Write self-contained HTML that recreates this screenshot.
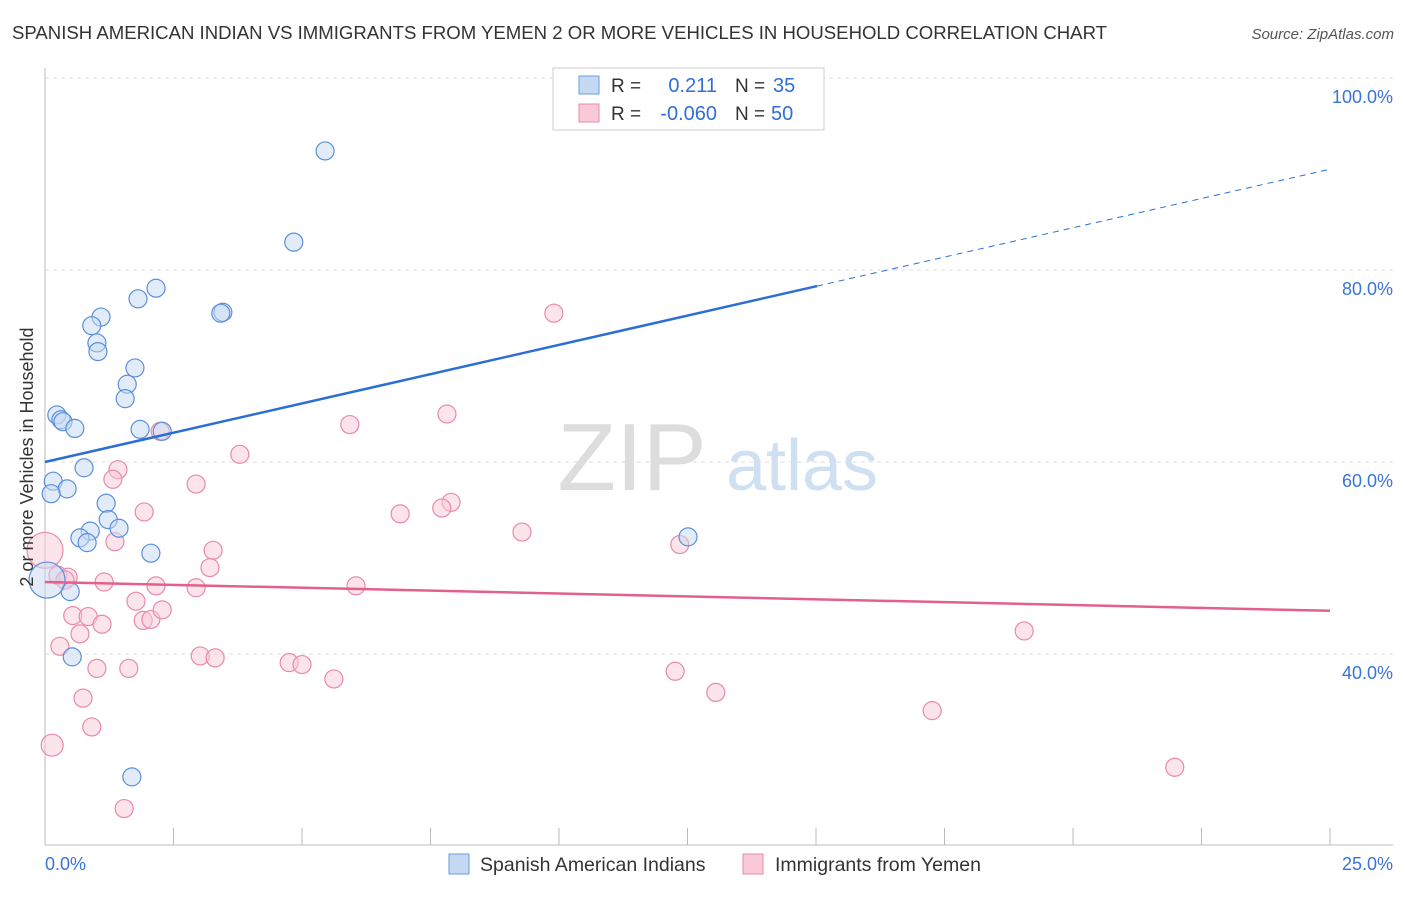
<!DOCTYPE html>
<html><head><meta charset="utf-8"><style>
body{margin:0;background:#fff;font-family:"Liberation Sans",sans-serif;}
svg text{font-family:"Liberation Sans",sans-serif;}
</style></head><body>
<svg id="chart" width="1406" height="892" viewBox="0 0 1406 892" xmlns="http://www.w3.org/2000/svg">
<text x="12" y="39" font-size="18" fill="#333" textLength="1095" lengthAdjust="spacingAndGlyphs">SPANISH AMERICAN INDIAN VS IMMIGRANTS FROM YEMEN 2 OR MORE VEHICLES IN HOUSEHOLD CORRELATION CHART</text>
<text x="1394" y="39" font-size="15" fill="#555" text-anchor="end" font-style="italic">Source: ZipAtlas.com</text>
<g>
<text x="632" y="490" font-size="96" fill="#ddd" font-family="Liberation Serif" text-anchor="middle">ZIP</text>
<text x="802" y="490" font-size="72" fill="#cfe0f3" text-anchor="middle">atlas</text>
</g>
<g id="grid"></g>
<g id="axes"></g>
<g id="marks"></g>
<text transform="translate(33,457) rotate(-90)" font-size="18" fill="#333" text-anchor="middle">2 or more Vehicles in Household</text>
<g>
<rect x="553" y="68" width="271" height="62" fill="#fff" stroke="#ccc"/>
<rect x="579" y="76" width="20" height="18" fill="#c5d9f3" stroke="#6a9ee0"/>
<rect x="579" y="104" width="20" height="18" fill="#f9c9d7" stroke="#e98aa8"/>
<text x="611" y="92" font-size="19" fill="#333">R =</text>
<text x="717" y="92" font-size="20" fill="#2f6fd6" text-anchor="end">0.211</text>
<text x="735" y="92" font-size="19" fill="#333">N =</text>
<text x="773" y="92" font-size="20" fill="#2f6fd6">35</text>
<text x="611" y="120" font-size="19" fill="#333">R =</text>
<text x="717" y="120" font-size="20" fill="#2f6fd6" text-anchor="end">-0.060</text>
<text x="735" y="120" font-size="19" fill="#333">N =</text>
<text x="771" y="120" font-size="20" fill="#2f6fd6">50</text>
</g>
<g>
<rect x="449" y="854" width="20" height="20" fill="#c5d9f3" stroke="#6a9ee0"/>
<text x="480" y="871" font-size="19.5" fill="#333">Spanish American Indians</text>
<rect x="743" y="854" width="20" height="20" fill="#f9c9d7" stroke="#e98aa8"/>
<text x="775" y="871" font-size="19.5" fill="#333">Immigrants from Yemen</text>
</g>
</svg>
<script>
const yTicks=[100,80,60,40];
const yTickLabels=["100.0%","80.0%","60.0%","40.0%"];
const xTicks=[0,2.5,5,7.5,10,12.5,15,17.5,20,22.5,25];
const xEndLabels=["0.0%","25.0%"];
const blueX=[5.45,4.84,2.16,1.81,1.09,0.91,3.46,3.42,1.01,1.03,1.75,1.60,1.56,0.23,0.31,0.35,0.58,1.85,2.28,0.76,0.16,0.43,0.12,1.19,1.23,1.44,0.88,0.68,0.82,2.06,12.51,0.49,0.53,1.69,0.04];
const blueY=[92.4,82.9,78.1,77.0,75.1,74.2,75.6,75.5,72.4,71.5,69.8,68.1,66.6,64.9,64.4,64.2,63.5,63.4,63.2,59.4,58.0,57.2,56.7,55.7,54.0,53.1,52.8,52.1,51.6,50.5,52.2,46.5,39.7,27.2,47.7];
const blueBig=[34];
const pinkX=[9.90,7.82,5.93,2.24,3.79,1.42,1.32,2.94,7.90,7.72,1.93,6.91,9.28,1.36,12.35,3.27,3.21,0,0.25,0.45,1.15,2.16,2.94,6.05,1.77,0.54,0.84,1.11,1.91,2.06,2.28,0.68,0.29,3.02,3.31,4.75,5.00,1.01,1.63,5.62,12.26,13.05,0.74,0.91,17.26,21.98,0.14,1.54,19.05,0.39];
const pinkY=[75.5,65.0,63.9,63.2,60.8,59.2,58.2,57.7,55.8,55.2,54.8,54.6,52.7,51.7,51.4,50.8,49.0,50.8,48.2,48.0,47.5,47.1,46.9,47.1,45.5,44.0,43.9,43.1,43.5,43.6,44.6,42.1,40.8,39.8,39.6,39.1,38.9,38.5,38.5,37.4,38.2,36.0,35.4,32.4,34.1,28.2,30.5,23.9,42.4,47.7];
const pinkBig=[17];
const pinkMid=[46];
const blueTrend=[60.0,90.5];
const blueSolidEnd=15.02;
const pinkTrend=[47.5,44.5];

const NS="http://www.w3.org/2000/svg";
const sx=v=>45+v*51.4;
const sy=v=>78+(100-v)*9.6;
function mk(tag,attrs,parent){const e=document.createElementNS(NS,tag);for(const k in attrs)e.setAttribute(k,attrs[k]);document.getElementById(parent).appendChild(e);return e;}
yTicks.forEach((t,i)=>{
  const l=mk('line',{x1:45,x2:1393,y1:sy(t),y2:sy(t),stroke:'#ddd','stroke-dasharray':'4,4'},'grid');
  
  
  const tx=mk('text',{x:1393,y:sy(t)+25,'font-size':18,fill:'#3a74d8','text-anchor':'end'},'grid');
  tx.textContent=yTickLabels[i];
  
  
});
const ya=mk('line',{x1:45,x2:45,y1:68,y2:845,stroke:'#bbb'},'axes');


const xa=mk('line',{x1:45,x2:1393,y1:845,y2:845,stroke:'#bbb'},'axes');


xTicks.forEach(t=>{if(t===0)return;
  const l=mk('line',{x1:sx(t),x2:sx(t),y1:828,y2:845,stroke:'#bbb'},'axes');
  
  
});
[[0,'start',45],[25,'end',1393]].forEach((a,i)=>{
  const tx=mk('text',{x:a[2],y:870,'font-size':18,fill:'#3a74d8','text-anchor':a[1]},'axes');
  tx.textContent=xEndLabels[i];
  
  
});
function pts(X,Y,big,mid,fill,stroke,name){
  X.forEach((x,i)=>{
    const r=big.includes(i)?18:(mid.includes(i)?11:9);
    const c=mk('circle',{cx:sx(x),cy:sy(Y[i]),r:r,fill:fill,'fill-opacity':0.5,stroke:stroke,'stroke-width':1.2},'marks');
    
    
  });
}
pts(pinkX,pinkY,pinkBig,pinkMid,'#f9c9d7','#e98aa8','yemen-point');
pts(blueX,blueY,blueBig,[],'#c5d9f3','#5b8fdb','spanish-point');
const by=x=>blueTrend[0]+(blueTrend[1]-blueTrend[0])*x/25;
const b1=mk('line',{x1:sx(0),y1:sy(by(0)),x2:sx(blueSolidEnd),y2:sy(by(blueSolidEnd)),stroke:'#2b6fd6','stroke-width':2.5},'marks');


const b2=mk('line',{x1:sx(blueSolidEnd),y1:sy(by(blueSolidEnd)),x2:sx(25),y2:sy(by(25)),stroke:'#2b6fd6','stroke-width':1,'stroke-dasharray':'6,5'},'marks');


const p1=mk('line',{x1:sx(0),y1:sy(pinkTrend[0]),x2:sx(25),y2:sy(pinkTrend[1]),stroke:'#e2608a','stroke-width':2.5},'marks');


</script>
</body></html>
